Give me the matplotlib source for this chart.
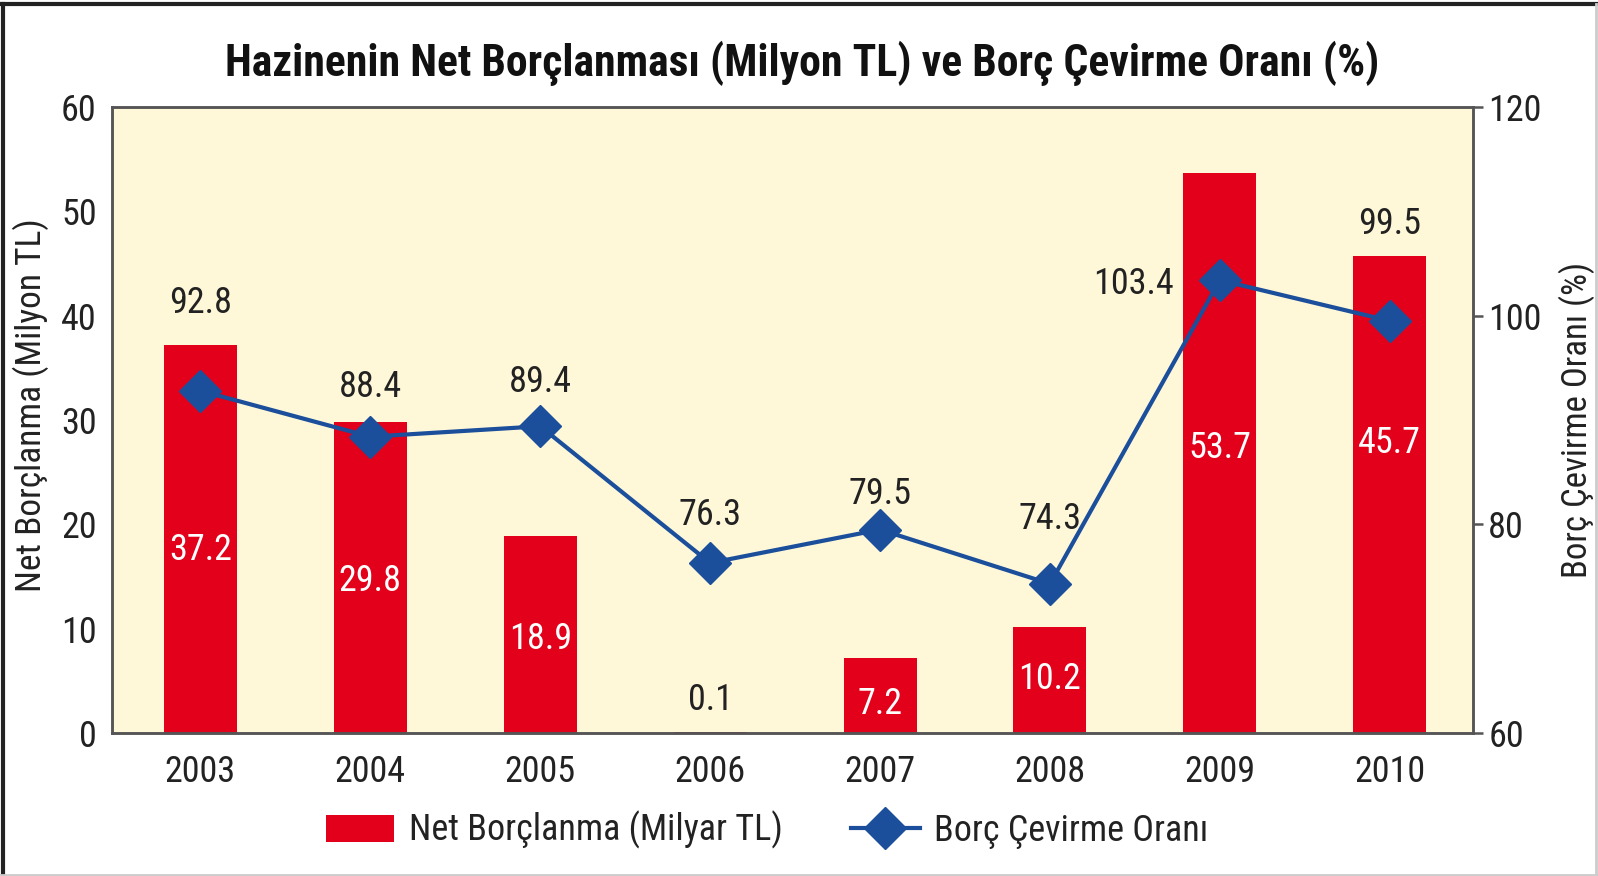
import matplotlib
matplotlib.use("Agg")
import matplotlib.pyplot as plt
from matplotlib.lines import Line2D
from matplotlib.patches import Patch

plt.rcParams['font.family'] = ['Liberation Sans Narrow', 'DejaVu Sans Condensed',
                               'Roboto Condensed', 'Liberation Sans', 'DejaVu Sans']

# Data
years = ['2003', '2004', '2005', '2006', '2007', '2008', '2009', '2010']
net_borrowing = [37.2, 29.8, 18.9, 0.1, 7.2, 10.2, 53.7, 45.7]
rollover_ratio = [92.8, 88.4, 89.4, 76.3, 79.5, 74.3, 103.4, 99.5]

# Where the value labels sit (left axis units for bars, right axis units for the line)
bar_label_y = [17.5, 14.6, 9.0, 3.2, 2.8, 5.2, 27.3, 27.8]
line_label_y = [101.2, 93.2, 93.6, 80.9, 82.9, 80.5, 103.0, 108.8]

bar_color = '#e2001a'
line_color = '#1b4e9b'
bg_color = '#fef8d9'
text_color = '#222222'
fs = 26

fig = plt.figure(figsize=(15.98, 8.76), dpi=100)
ax = fig.add_axes([0.0701, 0.1632, 0.8517, 0.7147])
ax.set_facecolor(bg_color)

x = list(range(len(years)))
ax.bar(x, net_borrowing, width=0.43, color=bar_color, zorder=2)
ax.set_xlim(-0.52, 7.49)
ax.set_ylim(0, 60)
ax.set_yticks(range(0, 61, 10))
ax.set_xticks(x)
ax.set_xticklabels(years)
ax.tick_params(axis='x', length=0, labelsize=fs, pad=15, colors=text_color)
ax.tick_params(axis='y', length=0, labelsize=fs, pad=11, colors=text_color)
ax.set_ylabel('Net Borçlanma (Milyon TL)', fontsize=25.5, color=text_color)
ax.yaxis.set_label_coords(-0.046, 0.524)

for s in ax.spines.values():
    s.set_color('#555555')
    s.set_linewidth(1.8)

ax2 = ax.twinx()
ax2.plot(x, rollover_ratio, color=line_color, lw=3, marker='D', ms=21,
         markerfacecolor=line_color, markeredgecolor=line_color, zorder=3)
ax2.set_ylim(60, 120)
ax2.set_yticks(range(60, 121, 20))
ax2.tick_params(axis='y', length=7, width=1.8, labelsize=fs, pad=4, colors=text_color)
ax2.tick_params(axis='y', color='#555555')
ax2.set_ylabel('Borç Çevirme Oranı (%)', fontsize=25, color=text_color, labelpad=12)
for s in ax2.spines.values():
    s.set_color('#555555')
    s.set_linewidth(1.8)

# Bar value labels, white inside the bar unless the bar is too short
for i, (v, ly) in enumerate(zip(net_borrowing, bar_label_y)):
    c = 'white' if v > 5 else text_color
    ax.text(i, ly, f'{v:.1f}', ha='center', va='center', fontsize=fs, color=c, zorder=4)

# Ratio labels above the markers (2009 sits to the left)
for i, (v, ly) in enumerate(zip(rollover_ratio, line_label_y)):
    if i == 6:
        ax2.text(i - 0.27, ly, f'{v:.1f}', ha='right', va='center', fontsize=fs,
                 color=text_color, zorder=4)
    else:
        ax2.text(i, ly, f'{v:.1f}', ha='center', va='center', fontsize=fs,
                 color=text_color, zorder=4)

fig.text(0.502, 0.928, 'Hazinenin Net Borçlanması (Milyon TL) ve Borç Çevirme Oranı (%)',
         ha='center', va='center', fontsize=31.5, fontweight='bold', color='#111111')

handles = [Patch(facecolor=bar_color, edgecolor='none'),
           Line2D([0], [0], color=line_color, lw=3, marker='D', ms=21)]
fig.legend(handles, ['Net Borçlanma (Milyar TL)', 'Borç Çevirme Oranı'],
           loc='center', bbox_to_anchor=(0.480, 0.0525), ncol=2, frameon=False,
           fontsize=fs, handlelength=1.9, handleheight=0.77, columnspacing=1.9,
           handletextpad=0.4, labelcolor=text_color)

# Outer frame: dark on the top/left, light on the bottom/right
fig.add_artist(Line2D([0.002, 0.002], [0, 0.995], transform=fig.transFigure,
                      color='#222222', lw=3))
fig.add_artist(Line2D([0.0, 1.0], [0.995, 0.995], transform=fig.transFigure,
                      color='#222222', lw=3))
fig.add_artist(Line2D([0.999, 0.999], [0, 0.995], transform=fig.transFigure,
                      color='#cccccc', lw=2))
fig.add_artist(Line2D([0.0, 1.0], [0.001, 0.001], transform=fig.transFigure,
                      color='#cccccc', lw=2))

fig.savefig('out.png', dpi=100)
